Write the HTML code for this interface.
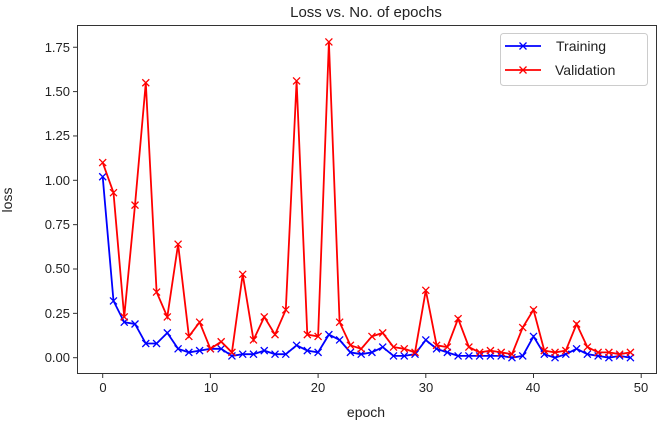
<!DOCTYPE html>
<html><head><style>body{margin:0;background:#fff}svg{display:block}text{font-family:"Liberation Sans","DejaVu Sans",sans-serif;fill:#222}</style></head>
<body>
<svg id="s" width="658" height="425" xmlns="http://www.w3.org/2000/svg">
<text x="366" y="17" font-size="15" text-anchor="middle">Loss vs. No. of epochs</text>
<rect x="77.5" y="25.5" width="579" height="348" fill="none" stroke="#333" stroke-width="1"/>
<g font-size="13" text-anchor="end">
<text x="70" y="362">0.00</text><text x="70" y="318">0.25</text><text x="70" y="273">0.50</text><text x="70" y="229">0.75</text><text x="70" y="185">1.00</text><text x="70" y="140">1.25</text><text x="70" y="96">1.50</text><text x="70" y="52">1.75</text>
</g>
<g font-size="13" text-anchor="middle">
<text x="103" y="392">0</text><text x="211" y="392">10</text><text x="318" y="392">20</text><text x="426" y="392">30</text><text x="533" y="392">40</text><text x="641" y="392">50</text>
</g>
<text x="366" y="417" font-size="14" text-anchor="middle">epoch</text>
<text x="12" y="200" font-size="14" text-anchor="middle" transform="rotate(-90 12 200)">loss</text>
<g id="ticks" stroke="#333"></g>
<g id="plot"></g>
<rect x="500.5" y="33.5" width="147" height="52" rx="3" fill="#fff" stroke="#ccc"/>
<line x1="505" y1="46" x2="541" y2="46" stroke="#00f" stroke-width="1.8"/>
<path d="M519.5 42.5L526.5 49.5M519.5 49.5L526.5 42.5" stroke="#00f" stroke-width="1.3"/>
<line x1="505" y1="70" x2="541" y2="70" stroke="#f00" stroke-width="1.8"/>
<path d="M519.5 66.5L526.5 73.5M519.5 73.5L526.5 66.5" stroke="#f00" stroke-width="1.3"/>
<text x="556" y="51" font-size="14">Training</text>
<text x="555" y="75" font-size="14">Validation</text>
</svg>
<script>
var V=[1.10,0.93,0.23,0.86,1.55,0.37,0.23,0.64,0.12,0.20,0.05,0.09,0.03,0.47,0.10,0.23,0.13,0.27,1.56,0.13,0.12,1.78,0.20,0.07,0.05,0.12,0.14,0.06,0.05,0.03,0.38,0.07,0.06,0.22,0.06,0.03,0.04,0.03,0.02,0.17,0.27,0.04,0.03,0.04,0.19,0.06,0.03,0.03,0.02,0.03];
var T=[1.02,0.32,0.20,0.19,0.08,0.08,0.14,0.05,0.03,0.04,0.05,0.05,0.01,0.02,0.02,0.04,0.02,0.02,0.07,0.04,0.03,0.13,0.10,0.03,0.02,0.03,0.06,0.01,0.01,0.02,0.10,0.05,0.03,0.01,0.01,0.01,0.01,0.01,0.0,0.01,0.12,0.02,0.0,0.02,0.05,0.02,0.01,0.0,0.01,0.0];
function X(i){return 102.7+i*10.77}function Y(v){return 357.7-v*177.4}
var tk=document.getElementById('ticks'),h='';
[0,10,20,30,40,50].forEach(function(t){h+='<line x1="'+X(t)+'" y1="374" x2="'+X(t)+'" y2="378"/>'});
[0,.25,.5,.75,1,1.25,1.5,1.75].forEach(function(t){h+='<line x1="73" y1="'+Y(t)+'" x2="77" y2="'+Y(t)+'"/>'});
tk.innerHTML=h;
function series(d,c){var p=d.map(function(v,i){return X(i).toFixed(1)+','+Y(v).toFixed(1)}).join(' ');
var s='<polyline points="'+p+'" fill="none" stroke="'+c+'" stroke-width="1.8"/>';
d.forEach(function(v,i){var x=X(i),y=Y(v),r=3.5;s+='<path d="M'+(x-r)+' '+(y-r)+'L'+(x+r)+' '+(y+r)+'M'+(x-r)+' '+(y+r)+'L'+(x+r)+' '+(y-r)+'" stroke="'+c+'" stroke-width="1.3"/>'});return s}
document.getElementById('plot').innerHTML=series(T,'#00f')+series(V,'#f00');
</script>
</body></html>
